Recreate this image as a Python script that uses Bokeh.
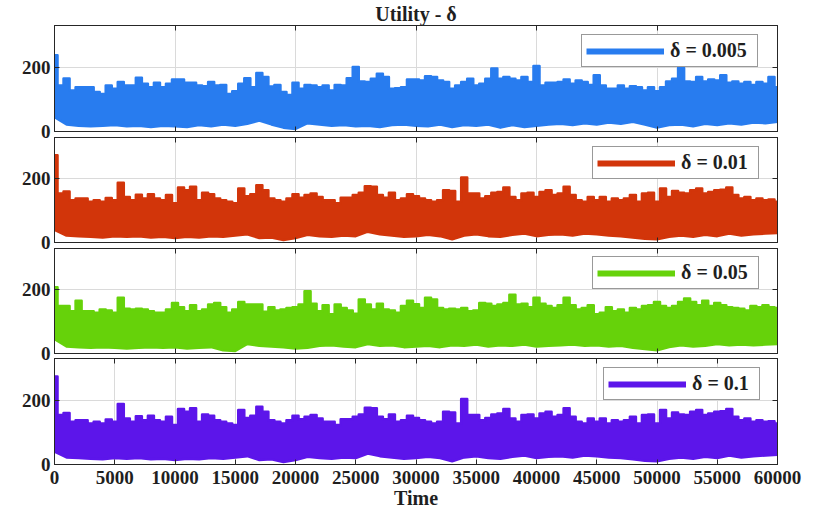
import numpy as np
from bokeh.plotting import figure
from bokeh.models import Range1d, FixedTicker, LinearAxis, Legend, LegendItem
from bokeh.layouts import column
from bokeh.embed import file_html
from bokeh.resources import INLINE

# ---------------- data ----------------
time_max = 60000
upper_step = 500     # upper envelope sampled every 500 time steps
lower_step = 1000    # lower envelope sampled every 1000 time steps
x_ticks_panels = list(range(0, 60001, 10000))
x_ticks_bottom = list(range(0, 60001, 5000))
y_ticks = [0, 200]
y_max = 330

series_labels = ["δ = 0.005", "δ = 0.01", "δ = 0.05", "δ = 0.1"]
series_colors = ["#287CEF", "#D2350A", "#66D20A", "#5C15EA"]

upper_d0005 = [237, 143, 165, 128, 138, 138, 138, 123, 117, 143,
               133, 154, 143, 143, 167, 149, 138, 152, 138, 149,
               162, 162, 152, 152, 143, 141, 154, 143, 145, 117,
               125, 149, 166, 138, 182, 170, 140, 145, 123, 114,
               152, 133, 145, 143, 138, 143, 128, 145, 143, 166,
               201, 156, 154, 164, 180, 170, 133, 135, 138, 162,
               162,
               159, 172, 170, 159, 154, 133, 143, 154, 164, 143,
               149, 164, 196, 164, 170, 164, 159, 170, 154, 204,
               143, 152, 152, 154, 162, 149, 159, 154, 145, 175,
               143, 133, 133, 143, 133, 141, 138, 128, 138, 125,
               138, 156, 164, 198, 156, 154, 170, 156, 162, 159,
               175, 152, 156, 149, 154, 145, 154, 149, 170, 138]
lower_d0005 = [45, 22, 18, 16, 18, 20, 16, 18, 14, 18,
               16, 14, 20, 16, 22, 18, 24, 34, 22, 12,
               8, 26, 22, 18, 20, 16, 18, 14, 20, 22,
               18, 16, 22, 14, 20, 18, 22, 12, 20, 14,
               18, 22, 24, 20, 26, 22, 28, 24, 30, 22,
               12, 20, 22, 16, 24, 20, 26, 22, 28, 26,
               30]

upper_d001 = [274, 154, 160, 133, 138, 138, 128, 133, 128, 140,
              133, 188, 143, 133, 150, 138, 152, 138, 133, 149,
              123, 173, 164, 175, 133, 156, 152, 138, 133, 128,
              123, 170, 145, 152, 180, 164, 138, 133, 128, 138,
              152, 141, 149, 154, 143, 133, 133, 123, 141, 141,
              149, 156, 177, 175, 149, 141, 156, 133, 138, 152,
              145,
              138, 133, 128, 133, 164, 162, 128, 204, 154,
              154, 138, 145, 156, 159, 173, 143, 133, 154, 156,
              143, 159, 164, 149, 154, 175, 149, 133, 128, 143,
              133, 143, 128, 138, 133, 138, 149, 128, 154, 156,
              128, 170, 143, 162, 156, 154, 164, 170, 154, 159,
              164, 166, 173, 149, 138, 143, 133, 138, 133, 135,
              128]
lower_d001 = [40, 22, 20, 18, 16, 20, 18, 20, 16, 18,
              14, 18, 16, 20, 18, 22, 26, 14, 16, 8,
              14, 24, 20, 18, 22, 20, 34, 26, 22, 18,
              20, 24, 20, 10, 22, 26, 20, 18, 24, 28,
              20, 24, 26, 22, 28, 26, 22, 20, 16, 12,
              10, 18, 22, 18, 24, 20, 28, 22, 26, 28,
              30]

upper_d005 = [208, 149, 149, 133, 166, 133, 133, 128, 138, 135,
              128, 175, 141, 138, 141, 138, 133, 128, 128, 138,
              159, 145, 133, 152, 133, 138, 154, 159, 145, 128,
              138, 162, 154, 154, 154, 131, 145, 135, 138, 143,
              145, 154, 196, 156, 133, 152, 123, 154, 143, 135,
              125, 170, 154, 138, 156, 138, 135, 128, 149, 166,
              155,
              143, 175, 170, 143, 138, 141, 138, 143, 133,
              135, 159, 156, 149, 154, 159, 185, 154, 156, 145,
              175, 156, 149, 143, 152, 175, 152, 138, 143, 152,
              123, 128, 145, 133, 138, 128, 143, 138, 149, 152,
              162, 149, 143, 149, 162, 173, 162, 152, 166, 149,
              159, 152, 145, 143, 141, 135, 149, 145, 152, 145,
              143]
lower_d005 = [45, 22, 20, 18, 20, 18, 16, 18, 20, 18,
              20, 16, 18, 20, 10, 8, 30, 24, 22, 20,
              16, 18, 24, 26, 22, 20, 30, 24, 26, 20,
              22, 24, 20, 26, 24, 28, 22, 26, 24, 28,
              22, 24, 26, 28, 24, 26, 22, 24, 18, 14,
              10, 20, 26, 22, 24, 30, 26, 28, 26, 28,
              30]

# the delta = 0.1 run looks identical to the delta = 0.01 run in the picture
upper_d01 = list(upper_d001)
lower_d01 = list(lower_d001)

uppers = [upper_d0005, upper_d001, upper_d005, upper_d01]
lowers = [lower_d0005, lower_d001, lower_d005, lower_d01]

# ---------------- styling ----------------
FONT = "Liberation Serif"
TEXT = "#1f1f1f"
AXIS = "#262626"
GRID = "#dadada"

OVER = 10          # extra transparent border so the "0" tick labels are not cut
frame_heights = [106, 105, 105, 106]
border_tops = [24, OVER, OVER, OVER]
border_bottoms = [6 + OVER, 6 + OVER, 5 + OVER, 49]
top_margins = [0, -2 * OVER, -2 * OVER, -2 * OVER]
legend_left = [527, 538, 538, 549]
legend_bottom = [64, 63, 64, 64]
legend_label_w = [83, 73, 73, 63]


def band(upper, lower):
    xs, ys = [], []
    for i, u in enumerate(upper):
        x = i * upper_step
        xs += [x - upper_step / 2, x + upper_step / 2]
        ys += [u, u]
    for i in range(len(lower) - 1, -1, -1):
        xs.append(i * lower_step)
        ys.append(lower[i])
    return xs, ys


def hide_labels(ax):
    ax.major_label_text_font_size = "0px"
    ax.major_label_text_color = None
    ax.major_label_standoff = 0


def tick_axis(ticker_vals):
    ax = LinearAxis(ticker=FixedTicker(ticks=ticker_vals),
                    major_tick_in=5, major_tick_out=0,
                    minor_tick_line_color=None, axis_line_color=AXIS,
                    major_tick_line_color=AXIS)
    hide_labels(ax)
    return ax


figs = []
for k in range(4):
    last = (k == 3)
    xt = x_ticks_bottom if last else x_ticks_panels
    p = figure(frame_width=723, frame_height=frame_heights[k],
               x_range=Range1d(0, time_max), y_range=Range1d(0, y_max),
               output_backend="svg", toolbar_location=None,
               min_border_left=54, min_border_right=40,
               min_border_top=border_tops[k], min_border_bottom=border_bottoms[k],
               background_fill_color="white", border_fill_alpha=0.0,
               outline_line_color=AXIS, margin=(top_margins[k], 0, 0, 0))

    xs, ys = band(uppers[k], lowers[k])
    p.patch(xs, ys, fill_color=series_colors[k], line_color=series_colors[k],
            line_width=2.5, line_join="round")
    leg_r = p.line(x=[np.nan], y=[np.nan], line_color=series_colors[k], line_width=6)

    xa = p.below[0]
    xa.ticker = FixedTicker(ticks=xt)
    xa.major_tick_in = 5
    xa.major_tick_out = 0
    xa.minor_tick_line_color = None
    xa.axis_line_color = AXIS
    xa.major_tick_line_color = AXIS
    if last:
        xa.major_label_text_font = FONT
        xa.major_label_text_font_style = "bold"
        xa.major_label_text_font_size = "19px"
        xa.major_label_text_color = TEXT
        xa.major_label_standoff = 6
        xa.axis_label = "Time"
        xa.axis_label_text_font = FONT
        xa.axis_label_text_font_style = "bold"
        xa.axis_label_text_font_size = "20px"
        xa.axis_label_text_color = TEXT
        xa.axis_label_standoff = 0
    else:
        hide_labels(xa)

    ya = p.left[0]
    ya.ticker = FixedTicker(ticks=y_ticks)
    ya.major_tick_in = 5
    ya.major_tick_out = 0
    ya.minor_tick_line_color = None
    ya.axis_line_color = AXIS
    ya.major_tick_line_color = AXIS
    ya.major_label_text_font = FONT
    ya.major_label_text_font_style = "bold"
    ya.major_label_text_font_size = "19px"
    ya.major_label_text_color = TEXT
    ya.major_label_standoff = 4

    p.add_layout(tick_axis(xt), "above")
    p.add_layout(tick_axis(y_ticks), "right")

    p.xgrid.grid_line_color = GRID
    p.ygrid.grid_line_color = GRID

    leg = Legend(items=[LegendItem(label=series_labels[k], renderers=[leg_r])],
                 location=(legend_left[k], legend_bottom[k]), orientation="vertical",
                 glyph_width=78, glyph_height=20, label_height=20,
                 label_width=legend_label_w[k],
                 label_standoff=6, padding=4, spacing=0, margin=0,
                 label_text_font=FONT, label_text_font_style="bold",
                 label_text_font_size="20px", label_text_color=TEXT,
                 border_line_color="#333333", border_line_width=1,
                 background_fill_color="white", background_fill_alpha=1.0)
    p.add_layout(leg)

    if k == 0:
        p.title.text = "Utility - δ"
        p.title.align = "center"
        p.title.text_font = FONT
        p.title.text_font_style = "bold"
        p.title.text_font_size = "20px"
        p.title.text_color = TEXT
        p.title.standoff = 1
    figs.append(p)

layout = column(*figs, spacing=0)
open("out.html", "w").write(file_html(layout, INLINE))
